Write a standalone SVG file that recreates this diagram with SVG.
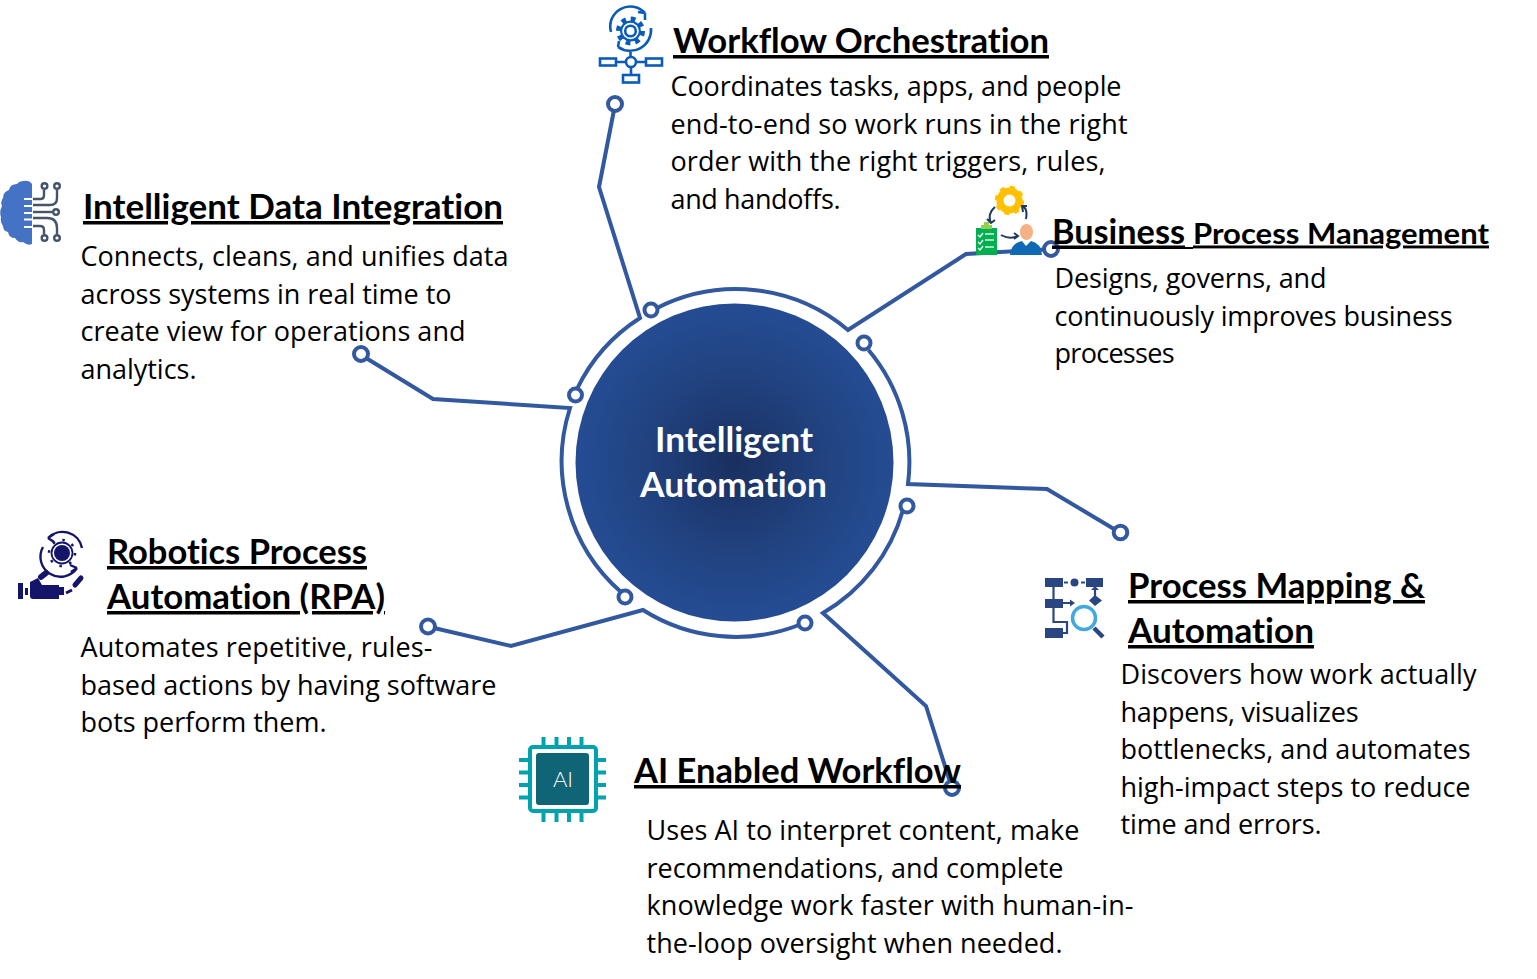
<svg xmlns="http://www.w3.org/2000/svg" width="1537" height="979" viewBox="0 0 1537 979">
<style>
.b{font-family:"Open Sans","Noto Sans","Liberation Sans",sans-serif;font-size:27px;fill:#000}
.h{font-family:Lato,"Open Sans","Liberation Sans",sans-serif;font-size:35px;font-weight:700;fill:#000;text-decoration:underline;text-decoration-skip-ink:none;text-decoration-thickness:2px;font-variant-ligatures:none}
.c{font-family:Lato,"Open Sans","Liberation Sans",sans-serif;font-size:34px;font-weight:700;fill:#fff;font-variant-ligatures:none}
.w{fill:none;stroke:#32589F;stroke-width:4;stroke-linejoin:miter}
.d{fill:#fff;stroke:#32589F;stroke-width:4}
.i{fill:none;stroke:#0B5CB8;stroke-width:2.600}
.p{fill:none;stroke:#00A3AD;stroke-width:4}
.n{fill:#14146B}
.ns{fill:none;stroke:#14146B;stroke-width:2.400}
.g{fill:none;stroke:#44546A;stroke-width:2.400}
.m{fill:#2A4682}
.ms{fill:none;stroke:#2A4682;stroke-width:2.200}
.a{fill:none;stroke:#1F3864;stroke-width:2}
</style>
<defs>
<radialGradient id="hub" cx="50%" cy="50%" r="50%">
<stop offset="0" stop-color="#1A2F5F"/><stop offset=".55" stop-color="#20427F"/><stop offset="1" stop-color="#254C93"/>
</radialGradient>
</defs>

<g id="connectors">
<path class="w" d="M657 308A174 174 0 0 1 848 330L966 254L1044 249.500"/>
<circle class="d" cx="651" cy="310" r="6.500"/>
<path class="w" d="M868.500 350A174 174 0 0 1 908 484L1047 489L1114 529"/>
<circle class="d" cx="864" cy="343" r="6.500"/>
<circle class="d" cx="1120.500" cy="532.500" r="6.800"/>
<path class="w" d="M903 510A174 174 0 0 1 823 613L926 706L950 782"/>
<circle class="d" cx="907" cy="506" r="6.500"/>
<circle class="d" cx="952" cy="788" r="7"/>
<path class="w" d="M799 625A174 174 0 0 1 643 610L511 646L434 628"/>
<circle class="d" cx="805" cy="623" r="6.500"/>
<circle class="d" cx="428" cy="626.500" r="7"/>
<path class="w" d="M621 592A174 174 0 0 1 570 408L433 399L366 358"/>
<circle class="d" cx="625" cy="597" r="6.500"/>
<circle class="d" cx="361" cy="354" r="7"/>
<path class="w" d="M577 389A174 174 0 0 1 640 318L599 187L614 110"/>
<circle class="d" cx="575.500" cy="395" r="6.500"/>
<circle class="d" cx="615" cy="104" r="7"/>
<circle class="d" cx="1051" cy="249" r="7"/>
</g>

<g id="hub-node">
<circle cx="734.500" cy="462.500" r="159" fill="url(#hub)"/>
<text class="c" x="655" y="452" textLength="158" lengthAdjust="spacingAndGlyphs">Intelligent</text>
<text class="c" x="640" y="497" textLength="187" lengthAdjust="spacingAndGlyphs">Automation</text>
</g>

<g id="workflow-orchestration">
<path class="i" d="M611 32A20 20 0 0 1 645 13M651 28A21 21 0 0 1 618 47M645 13L645 20M645 13L638 12M618 47L619 41M618 47L624 50"/>
<circle cx="630.500" cy="31" r="12" fill="none" stroke="#0B5CB8" stroke-width="5" stroke-dasharray="4.700 4.700"/>
<circle cx="630.500" cy="31" r="10.500" fill="#0B5CB8"/>
<circle cx="630.500" cy="31" r="8.300" fill="#fff"/>
<circle class="i" cx="630.500" cy="31" r="5.300"/>
<path class="i" d="M630.500 52V57M616 62H626M636 62H646M631 67V75"/>
<circle class="i" cx="631" cy="62" r="5"/>
<rect class="i" x="600" y="58.500" width="16" height="7"/>
<rect class="i" x="646" y="58.500" width="16" height="7"/>
<rect class="i" x="623" y="75" width="16" height="7.500"/>
<text class="h" x="673" y="53" textLength="376" lengthAdjust="spacingAndGlyphs">Workflow Orchestration</text>
<text class="b" x="670.500" y="95.500" textLength="451">Coordinates tasks, apps, and people</text>
<text class="b" x="670.500" y="133.500" textLength="457">end-to-end so work runs in the right</text>
<text class="b" x="670.500" y="170.500" textLength="435">order with the right triggers, rules,</text>
<text class="b" x="670.500" y="208.500" textLength="170">and handoffs.</text>
</g>

<g id="business-process-management">
<circle cx="1009.500" cy="200.500" r="9.500" fill="none" stroke="#FFC000" stroke-width="7"/>
<circle cx="1009.500" cy="200.500" r="13" fill="none" stroke="#FFC000" stroke-width="3.500" stroke-dasharray="5 5.200"/>
<path class="a" d="M995 207Q987 214 991 223M987 219L991 223L995 220M1026 219Q1028 208 1022 206M1023 212L1022 206L1027 206M1001 235Q1010 240 1018 236M1014 233L1018 236L1014 239"/>
<rect x="976" y="228" width="21" height="27" fill="#00B050"/>
<rect x="981" y="225" width="11" height="4" fill="#92D050"/>
<rect x="984" y="222" width="5" height="4" fill="#92D050"/>
<path d="M978 235L980 237L983 233M978 242L980 244L983 240M978 248L980 250L983 246" fill="none" stroke="#fff" stroke-width="1.300"/>
<path d="M985 234H994M985 240H994M985 247H994" stroke="#D9F2E3" stroke-width="1.300"/>
<path d="M1010 255Q1011 243 1022 241L1026 246L1031 241Q1041 243 1042 255Z" fill="#0F6AB4"/>
<ellipse cx="1026.500" cy="232" rx="6.500" ry="8" fill="#F4B183"/>
<text class="h" x="1052" y="243.500" textLength="133" lengthAdjust="spacingAndGlyphs">Business</text>
<path d="M1185 248H1193" stroke="#000" stroke-width="2"/>
<text class="h" x="1193" y="243.500" style="font-size:29px" textLength="296" lengthAdjust="spacingAndGlyphs">Process Management</text>
<text class="b" x="1054.500" y="287.500" textLength="272">Designs, governs, and</text>
<text class="b" x="1054.500" y="325.500" textLength="398">continuously improves business</text>
<text class="b" x="1054.500" y="362.500" textLength="120">processes</text>
</g>

<g id="intelligent-data-integration">
<path d="M32 244V184Q29 180 24 181Q19 181 17 184Q10 184 9 190Q3 192 3 198Q0 202 2 206Q-1 212 1 217Q0 222 3 226Q3 231 8 232Q9 238 15 238Q18 243 23 242Q28 246 32 244Z" fill="#4472C4"/>
<path d="M24 199H32M24 206H32M24 213H32M24 219.500H32M24 227H32" stroke="#fff" stroke-width="2"/>
<path d="M33 199H41Q44 199 44 195V190" class="g"/>
<path d="M33 205H50Q57 205 57 198V190" class="g"/>
<path d="M33 212H52" class="g"/>
<path d="M33 218H47Q57 218 57 228V234" class="g"/>
<path d="M33 226H40Q44 226 44 230V234" class="g"/>
<circle class="g" cx="44.500" cy="186" r="2.800"/><circle class="g" cx="57" cy="186" r="2.800"/>
<circle class="g" cx="56" cy="212" r="2.800"/>
<circle class="g" cx="44.500" cy="238" r="2.800"/><circle class="g" cx="57" cy="238" r="2.800"/>
<text class="h" x="83" y="219" textLength="420" lengthAdjust="spacingAndGlyphs">Intelligent Data Integration</text>
<text class="b" x="80.500" y="265.500" textLength="428">Connects, cleans, and unifies data</text>
<text class="b" x="80.500" y="303.500" textLength="371">across systems in real time to</text>
<text class="b" x="80.500" y="340.500" textLength="385">create view for operations and</text>
<text class="b" x="80.500" y="378.500" textLength="116">analytics.</text>
</g>

<g id="robotics-process-automation">
<path class="ns" d="M48 538A20 20 0 0 1 82 548M48 538L54 534M48 538L54 542M43 547A20 20 0 0 0 77 568M77 568L70 565M77 568L71 572"/>
<circle cx="62" cy="553" r="8" class="n"/>
<circle cx="62" cy="553" r="10.500" fill="none" stroke="#14146B" stroke-width="1.800"/>
<circle cx="62" cy="553" r="13" fill="none" stroke="#14146B" stroke-width="2.500" stroke-dasharray="2.500 7.700"/>
<path class="n" d="M30 582L38 578L42 585H59V599H33Q30 599 30 596Z"/>
<path d="M41 577L46 573" stroke="#14146B" stroke-width="6" stroke-linecap="round" fill="none"/>
<rect class="n" x="18" y="583" width="5" height="16"/><rect class="n" x="25" y="588" width="3" height="7"/>
<rect class="n" x="59" y="587" width="5" height="8"/>
<path d="M66 593L72 590" stroke="#14146B" stroke-width="3" fill="none"/>
<path d="M75 585L81 578" stroke="#14146B" stroke-width="5" stroke-linecap="round" fill="none"/>
<text class="h" x="107" y="564" textLength="260" lengthAdjust="spacingAndGlyphs">Robotics Process</text>
<text class="h" x="107" y="609" textLength="278" lengthAdjust="spacingAndGlyphs">Automation (RPA)</text>
<text class="b" x="80.500" y="656.500" textLength="352">Automates repetitive, rules-</text>
<text class="b" x="80.500" y="694.500" textLength="416">based actions by having software</text>
<text class="b" x="80.500" y="731.500" textLength="246">bots perform them.</text>
</g>

<g id="ai-enabled-workflow">
<rect x="530" y="747" width="66" height="64" rx="3" fill="#fff" stroke="#00A3AD" stroke-width="4"/>
<rect x="536" y="753" width="53" height="52" rx="3" fill="#0F6475"/>
<path class="p" d="M543.500 737V746M556.500 737V746M569 737V746M581.500 737V746M543.500 812V822M556.500 812V822M569 812V822M581.500 812V822M519 760H529M519 772.500H529M519 785H529M519 797.500H529M597 760H606M597 772.500H606M597 785H606M597 797.500H606"/>
<text x="563" y="787" text-anchor="middle" font-family="Lato,'Open Sans',sans-serif" font-size="22" font-weight="300" fill="#fff">AI</text>
<text class="h" x="634" y="783" textLength="327" lengthAdjust="spacingAndGlyphs">AI Enabled Workflow</text>
<text class="b" x="646.500" y="839.500" textLength="433">Uses AI to interpret content, make</text>
<text class="b" x="646.500" y="877.500" textLength="417">recommendations, and complete</text>
<text class="b" x="646.500" y="914.500" textLength="487">knowledge work faster with human-in-</text>
<text class="b" x="646.500" y="952.500" textLength="416">the-loop oversight when needed.</text>
</g>

<g id="process-mapping-automation">
<rect class="m" x="1045" y="578" width="18" height="9"/>
<rect class="m" x="1086" y="578" width="17" height="9"/>
<circle class="m" cx="1074.500" cy="582.500" r="4"/>
<path class="ms" d="M1064 582.500H1068M1081 582.500H1085M1053.500 587V599M1063 603H1072M1053.500 608V622H1067V633H1063M1095 596V589"/>
<path class="m" d="M1070 599.500L1075 603L1070 606.500ZM1091 590L1095 586L1099 590ZM1089 600.500L1095 595L1102 600.500L1095 606Z"/>
<rect class="m" x="1045" y="599" width="18" height="9"/>
<rect class="m" x="1045" y="628" width="18" height="10"/>
<circle cx="1084" cy="618" r="11.500" fill="#fff" stroke="#41A8E0" stroke-width="3.500"/>
<path d="M1094 628L1103 637" stroke="#2A4682" stroke-width="4.500"/>
<text class="h" x="1128" y="598" textLength="297" lengthAdjust="spacingAndGlyphs">Process Mapping &amp;</text>
<text class="h" x="1128" y="643" textLength="186" lengthAdjust="spacingAndGlyphs">Automation</text>
<text class="b" x="1120.500" y="683.500" textLength="356">Discovers how work actually</text>
<text class="b" x="1120.500" y="721.500" textLength="238">happens, visualizes</text>
<text class="b" x="1120.500" y="758.500" textLength="350">bottlenecks, and automates</text>
<text class="b" x="1120.500" y="796.500" textLength="350">high-impact steps to reduce</text>
<text class="b" x="1120.500" y="833.500" textLength="201">time and errors.</text>
</g>
</svg>
